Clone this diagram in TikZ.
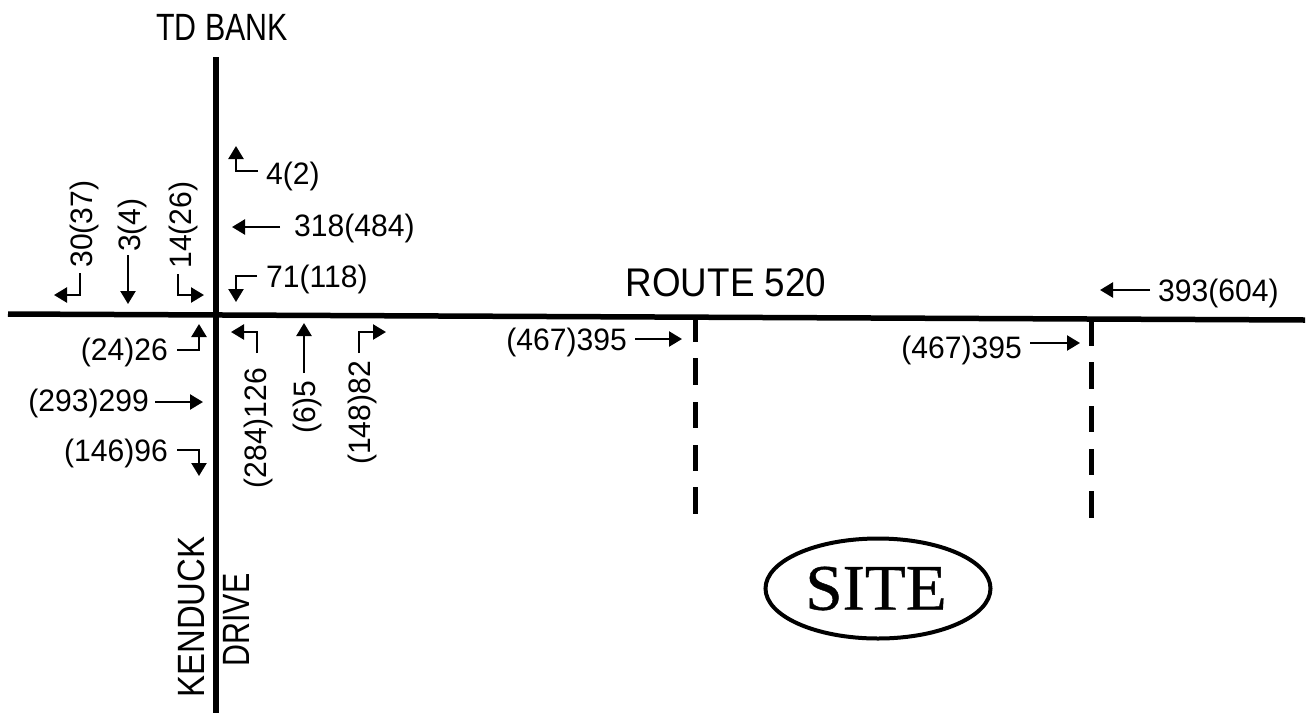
\documentclass[tikz,border=0pt]{standalone}
\usepackage{fontspec}
\setmainfont{Liberation Sans}
\newfontfamily\siteserif[FakeBold=0.6,FakeStretch=1.03]{Liberation Serif}
\newfontfamily\volfont[FakeStretch=0.97]{Liberation Sans}
\newfontfamily\tightfont[FakeStretch=0.8]{Liberation Sans}
\newfontfamily\kenfont[FakeStretch=0.865]{Liberation Sans}
\newfontfamily\routefont[FakeStretch=0.92]{Liberation Sans}
\usetikzlibrary{arrows.meta,shapes.geometric}
\tikzset{
  road/.style={line width=5.5pt},
  drive/.style={line width=5pt},
  flow/.style={line width=2.4pt,-{Triangle[length=13pt,width=15pt]}},
  vol/.style={inner sep=0pt,font=\volfont\fontsize{31}{36}\selectfont},
  roadname/.style={inner sep=0pt,font=\tightfont\fontsize{38}{44}\selectfont},
}
\begin{document}
\begin{tikzpicture}[x=1pt,y=-1pt]
\useasboundingbox (0,0) rectangle (1311,713);
% roads
\coordinate (rw) at (8,314);
\coordinate (re) at (1305,320);
\coordinate (kn) at (216,57);
\coordinate (ks) at (216,713);
\draw[road] (rw) -- (re);
\draw[road] (kn) -- (ks);
% site driveways
\foreach \x/\n/\o in {695/a/0,1091/b/4}{
  \foreach \i/\s/\e in {1/316/342,2/358/385,3/402/428,4/445/471,5/487/514}{
    \coordinate (d\n\i s) at (\x,\s+\o);
    \coordinate (d\n\i e) at (\x,\e+\o);
    \draw[drive] (d\n\i s) -- (d\n\i e);
  }
}
% names
\node[roadname] (tdbank) at (222,27) {TD BANK};
\node[roadname,font=\routefont\fontsize{40}{46}\selectfont] (route) at (726,283) {ROUTE 520};
\node[roadname,rotate=90,font=\kenfont\fontsize{38}{44}\selectfont] (kenduck) at (191.5,617) {KENDUCK};
\node[roadname,rotate=90] (drivename) at (236,620) {DRIVE};
\node[draw,line width=4pt,ellipse,minimum width=225pt,minimum height=100pt,inner sep=0pt] (site) at (878,588.5) {};
\node[inner sep=0pt,font=\siteserif\fontsize{65}{70}\selectfont] (sitetext) at (876,588.5) {SITE};
% north-east labels
\node[vol,anchor=west] (l1) at (266,176) {4(2)};
\node[vol,anchor=west] (l2) at (294,228) {318(484)};
\node[vol,anchor=west] (l3) at (266,279) {71(118)};
% north approach
\node[vol,rotate=90] (l4) at (84,224) {30(37)};
\node[vol,rotate=90] (l5) at (132,225) {3(4)};
\node[vol,rotate=90] (l6) at (183,225) {14(26)};
% west approach
\node[vol,anchor=east] (l7) at (168,352) {(24)26};
\node[vol,anchor=east] (l8) at (149,403) {(293)299};
\node[vol,anchor=east] (l9) at (168,453) {(146)96};
% south approach
\node[vol,rotate=90] (l10) at (258,428) {(284)126};
\node[vol,rotate=90] (l11) at (307,407) {(6)5};
\node[vol,rotate=90] (l12) at (362,413) {(148)82};
% route labels
\node[vol,anchor=east] (l13) at (627,342) {(467)395};
\node[vol,anchor=east] (l14) at (1022,350) {(467)395};
\node[vol,anchor=west] (l15) at (1158,293) {393(604)};
% arrows
\coordinate (a1a) at (258,171); \coordinate (a1b) at (236,171); \coordinate (a1c) at (236,146);
\draw[flow] (a1a) -- (a1b) -- (a1c);
\coordinate (a2a) at (280,227); \coordinate (a2b) at (232,227);
\draw[flow] (a2a) -- (a2b);
\coordinate (a3a) at (257,276); \coordinate (a3b) at (236,276); \coordinate (a3c) at (236,302);
\draw[flow] (a3a) -- (a3b) -- (a3c);
\coordinate (a4a) at (80,273); \coordinate (a4b) at (80,295); \coordinate (a4c) at (54,295);
\draw[flow] (a4a) -- (a4b) -- (a4c);
\coordinate (a5a) at (128,255); \coordinate (a5b) at (128,304);
\draw[flow] (a5a) -- (a5b);
\coordinate (a6a) at (178,274); \coordinate (a6b) at (178,295); \coordinate (a6c) at (204,295);
\draw[flow] (a6a) -- (a6b) -- (a6c);
\coordinate (a7a) at (177,350); \coordinate (a7b) at (199,350); \coordinate (a7c) at (199,324);
\draw[flow] (a7a) -- (a7b) -- (a7c);
\coordinate (a8a) at (155,402); \coordinate (a8b) at (203,402);
\draw[flow] (a8a) -- (a8b);
\coordinate (a9a) at (177,450); \coordinate (a9b) at (199,450); \coordinate (a9c) at (199,476);
\draw[flow] (a9a) -- (a9b) -- (a9c);
\coordinate (a10a) at (257,353); \coordinate (a10b) at (257,332); \coordinate (a10c) at (231,332);
\draw[flow] (a10a) -- (a10b) -- (a10c);
\coordinate (a11a) at (304,373); \coordinate (a11b) at (304,323);
\draw[flow] (a11a) -- (a11b);
\coordinate (a12a) at (359,353); \coordinate (a12b) at (359,332); \coordinate (a12c) at (386,332);
\draw[flow] (a12a) -- (a12b) -- (a12c);
\coordinate (a13a) at (635,339); \coordinate (a13b) at (682,339);
\draw[flow] (a13a) -- (a13b);
\coordinate (a14a) at (1030,343); \coordinate (a14b) at (1080,343);
\draw[flow] (a14a) -- (a14b);
\coordinate (a15a) at (1150,290); \coordinate (a15b) at (1100,290);
\draw[flow] (a15a) -- (a15b);
\end{tikzpicture}
\end{document}
